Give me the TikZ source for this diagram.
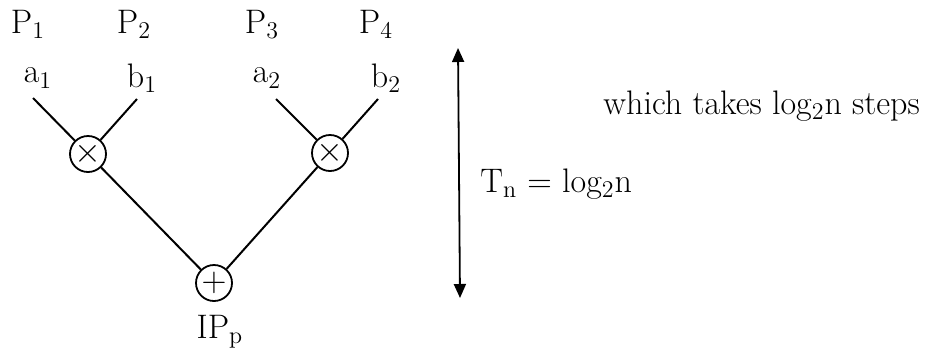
\documentclass[tikz,border=0pt]{standalone}
\usepackage{amsmath}
\usetikzlibrary{arrows.meta}
\tikzset{
	op/.style={draw,circle,line width=0.9pt,minimum size=18pt,inner sep=0pt},
	wire/.style={line width=1pt},
	lbl/.style={inner sep=1pt}
}
\begin{document}
\begin{tikzpicture}[x=0.5pt,y=-0.5pt,font=\fontsize{17}{20}\selectfont]
		\useasboundingbox (0,0) rectangle (945,360);
		
		% processors and inputs
		\node[lbl] (p1) at (28,24) {P$_1$};
		\node[lbl] (p2) at (134,24) {P$_2$};
		\node[lbl] (p3) at (262,24) {P$_3$};
		\node[lbl] (p4) at (376,24) {P$_4$};
		\node[lbl] (a1) at (38,78) {a$_1$};
		\node[lbl] (b1) at (142,78) {b$_1$};
		\node[lbl] (a2) at (267,78) {a$_2$};
		\node[lbl] (b2) at (386,78) {b$_2$};
		
		% multiply and add
		\node[op] (m1) at (88,154) {$\times$};
		\node[op] (m2) at (330,153) {$\times$};
		\node[op] (sum) at (214,283) {$+$};
		\node[lbl] (ip) at (220,332) {IP$_\mathrm{p}$};
		
		\draw[wire] (33,98) -- (m1);
		\draw[wire] (137,99) -- (m1);
		\draw[wire] (276,99) -- (m2);
		\draw[wire] (378,99) -- (m2);
		\draw[wire] (m1) -- (sum);
		\draw[wire] (m2) -- (sum);
		
		% time
		\coordinate (top) at (458,48);
		\coordinate (bot) at (460,298);
		\draw[line width=0.9pt,{Triangle[width=6pt,length=7pt]}-{Triangle[width=6pt,length=7pt]}] (top) -- (bot);
		\node[lbl,anchor=west] (tn) at (478,184) {T$_\mathrm{n}$ = log$_2$n};
		\node[lbl,anchor=west] (steps) at (601,106) {which takes log$_2$n steps};
	\end{tikzpicture}
\end{document}
